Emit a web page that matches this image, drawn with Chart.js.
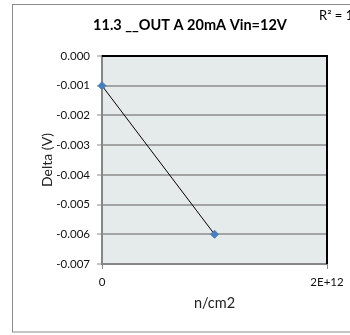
<!DOCTYPE html>
<html>
<head>
<meta charset="utf-8">
<script src="https://cdn.jsdelivr.net/npm/chart.js@4/dist/chart.umd.min.js"></script>
<style>
  html, body { margin: 0; padding: 0; background: #fff; }
  #wrap { width: 350px; height: 335px; }
</style>
</head>
<body>
<div id="wrap"><canvas id="c" width="350" height="335"></canvas></div>
<script>
// data
var fluence = [0, 1e12]
var delta = [-0.001, -0.006]
var yTicks = [0, -0.001, -0.002, -0.003, -0.004, -0.005, -0.006, -0.007]
var xTicks = [0, 2e12]
var titleText = "11.3 __OUT A 20mA Vin=12V"
var rSquared = "R\u00b2 = 1"

var pts = []
for (var i = 0; i < fluence.length; i++) {
	pts.push({ x: fluence[i], y: delta[i] })
}

// background of plot area, frame, title
var frame = {
	id: 'frame',
	beforeDraw: function (chart) {
		var c = chart.ctx, a = chart.chartArea
		c.save()
		c.fillStyle = '#fff'
		c.fillRect(0, 0, chart.width, chart.height)
		c.strokeStyle = '#8a8a8a'
		c.lineWidth = 1
		c.strokeRect(12.5, 4.5, 360, 327.5)
		c.fillStyle = '#e5ebeb'
		c.fillRect(a.left, a.top, a.right - a.left, a.bottom - a.top)
		c.restore()
	},
	afterDraw: function (chart) {
		var c = chart.ctx, a = chart.chartArea
		c.save()
		c.strokeStyle = '#000'
		c.lineWidth = 2
		c.beginPath()
		c.moveTo(a.left, a.top)
		c.lineTo(a.right, a.top)
		c.lineTo(a.right, a.bottom)
		c.stroke()
		c.fillStyle = '#000'
		c.font = 'bold 14.5px Lato'
		c.textAlign = 'center'
		c.textBaseline = 'middle'
		c.fillText(titleText, 190, 25)
		c.font = '13px Lato'
		c.textAlign = 'left'
		c.fillText(rSquared, 319, 16)
		c.restore()
	}
}

var ctx = document.getElementById('c').getContext('2d')
var myChart = new Chart(ctx, {
	type: 'scatter',
	data: {
		datasets: [{
			data: pts,
			showLine: true,
			borderColor: '#000',
			borderWidth: 1,
			pointStyle: 'rectRot',
			pointRadius: 4,
			pointBackgroundColor: '#4a7ebb',
			pointBorderColor: '#4a7ebb',
			clip: false
		}]
	},
	options: {
		responsive: false,
		animation: false,
		layout: { padding: { left: 0, right: 23, top: 56, bottom: 0 } },
		plugins: { legend: { display: false }, tooltip: { enabled: false } },
		scales: {
			x: {
				type: 'linear',
				min: xTicks[0],
				max: xTicks[xTicks.length - 1],
				afterBuildTicks: function (s) { s.ticks = xTicks.map(function (v) { return { value: v } }) },
				afterFit: function (s) { s.height = 71 },
				ticks: {
					color: '#111',
					font: { family: 'Lato', size: 11.5 },
					padding: 6,
					maxRotation: 0,
					callback: function (v) { return v === 0 ? '0' : '2E+12' }
				},
				grid: { drawOnChartArea: false, tickLength: 5, color: '#8a8a8a' },
				border: { color: '#868686', width: 2 },
				title: {
					display: true, text: 'n/cm2', color: '#222',
					font: { family: 'Lato', size: 14.5 },
					padding: { top: 0, bottom: 23 }
				}
			},
			y: {
				min: yTicks[yTicks.length - 1],
				max: yTicks[0],
				afterBuildTicks: function (s) { s.ticks = yTicks.map(function (v) { return { value: v } }) },
				afterFit: function (s) { s.width = 102 },
				ticks: {
					color: '#111',
					font: { family: 'Lato', size: 11.5 },
					padding: 7,
					callback: function (v) { return v.toFixed(3) }
				},
				grid: { color: '#a3a3a3', lineWidth: 2, tickLength: 5, tickColor: '#8a8a8a', tickWidth: 1 },
				border: { color: '#868686', width: 2 },
				title: {
					display: true, text: 'Delta (V)', color: '#222',
					font: { family: 'Lato', size: 14 },
					padding: { top: 39, bottom: 0 }
				}
			}
		}
	},
	plugins: [frame]
})
</script>
</body>
</html>
